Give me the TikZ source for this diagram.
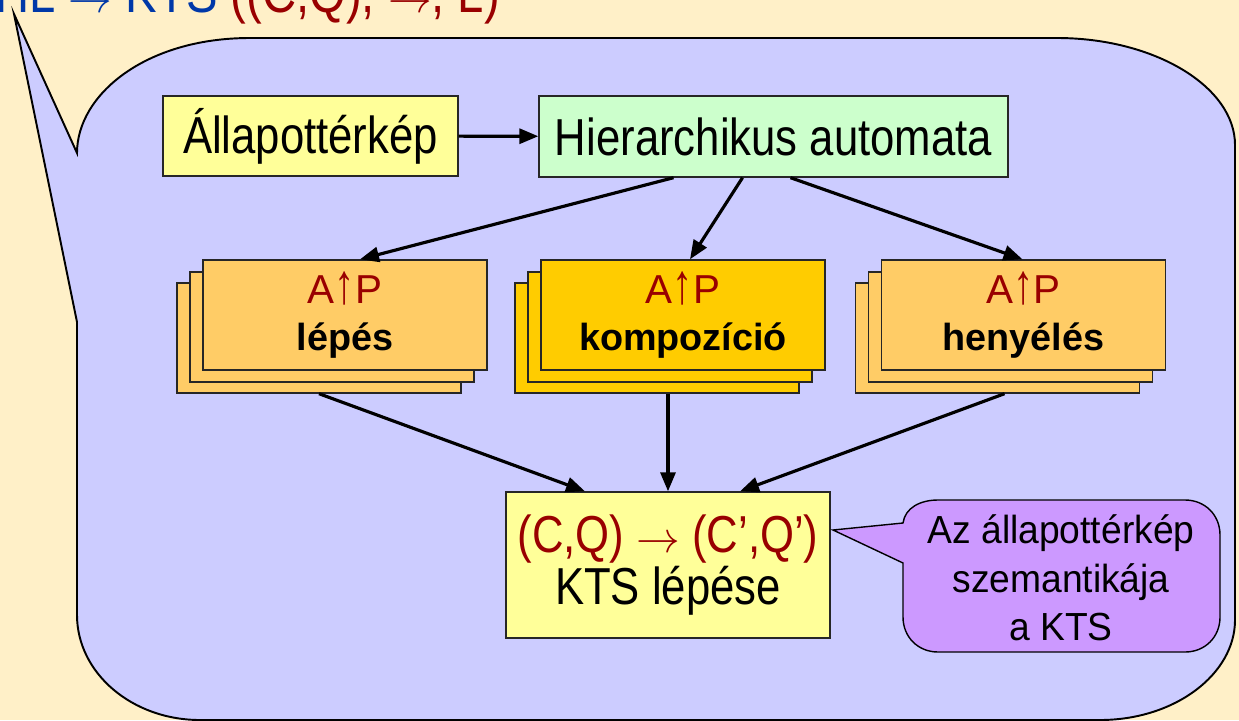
\documentclass[tikz,border=0pt]{standalone}
\usepackage{graphicx}
\usepackage{fontspec}
\setmainfont{Liberation Sans}
\newfontfamily\narrowfont[FakeStretch=0.84]{Liberation Sans}
\newfontfamily\bubblefont[FakeStretch=0.95]{Liberation Sans}
\usetikzlibrary{arrows.meta, calc}

\definecolor{cream}{HTML}{FFF0C8}
\definecolor{lavender}{HTML}{CCCCFF}
\definecolor{paleyellow}{HTML}{FFFF99}
\definecolor{palegreen}{HTML}{CCFFCC}
\definecolor{stackorange}{HTML}{FFCC66}
\definecolor{stackgold}{HTML}{FFCC00}
\definecolor{bubblepurple}{HTML}{CC99FF}
\definecolor{darkred}{HTML}{990000}
\definecolor{titleblue}{HTML}{0038A8}

\newcommand{\uparr}{\scalebox{1}[1.4]{↑}}
\newcommand{\rarr}{$\rightarrow$}

\tikzset{
  plainbox/.style={draw=black!85, line width=0.8pt, inner sep=0pt, align=center,
    font=\narrowfont\fontsize{29.6}{30}\selectfont},
  stackbox/.style={draw=black!85, line width=0.8pt, inner sep=0pt, align=center,
    minimum width=5.68cm, minimum height=2.2cm, font=\fontsize{21.5}{26.7}\selectfont},
  arr/.style={line width=1.8pt, -{Triangle[length=0.38cm, width=0.3cm]}}
}

\begin{document}
\begin{tikzpicture}[x=0.02cm, y=-0.02cm]
\useasboundingbox (0,0) rectangle (1239,720);
\fill[cream] (0,0) rectangle (1239,720);

% title, cut off at the top
\node[anchor=base west, inner sep=0pt, font=\narrowfont\fontsize{32}{32}\selectfont] (title) at (-5,12)
  {\color{titleblue}HL \rarr{} KTS \color{darkred}((C,Q), \rarr, L)};

% big callout
\draw[fill=lavender, line width=1.1pt]
  (250,38) -- (1057,38) .. controls (1155,38) and (1235,87) .. (1235,145)
  -- (1235,620) .. controls (1235,674) and (1175,720) .. (1100,720)
  -- (200,720) .. controls (132,720) and (77,673) .. (77,615)
  -- (77,322) -- (14,14) -- (77,153)
  .. controls (77,95) and (145,38) .. (250,38) -- cycle;

% top row
\node[plainbox, fill=paleyellow, minimum width=5.9cm, minimum height=1.6cm] (allap) at (310.5,136) {Állapottérkép};
\node[plainbox, fill=palegreen, minimum width=9.38cm, minimum height=1.62cm] (hier) at (773.5,136.5) {Hierarchikus automata};
\draw[arr] (allap) -- (hier);

% stacks
\foreach \nm/\cx/\col/\txt in {lep/345/stackorange/lépés, komp/683/stackgold/kompozíció, heny/1023.5/stackorange/henyélés} {
  \node[stackbox, fill=\col] (\nm-2) at (\cx-26,338) {};
  \node[stackbox, fill=\col] (\nm-1) at (\cx-13,327) {};
  \node[stackbox, fill=\col] (\nm) at (\cx,315) {{\fontsize{23}{26.7}\selectfont\color{darkred}A\uparr P}\\\textbf{\txt}};
}

% KTS step
\node[plainbox, fill=paleyellow, minimum width=6.48cm, minimum height=2.92cm] (kts) at (668,565)
  {{\color{darkred}(C,Q) \rarr{} (C’,Q’)}\\KTS lépése};

\draw[arr] ($(hier.south)+(-100,0)$) -- ($(lep.north)+(15,0)$);
\draw[arr] ($(hier.south)+(-31,0)$) -- ($(komp.north)+(7,0)$);
\draw[arr] ($(hier.south)+(17,0)$) -- ($(heny.north)+(-1,0)$);
\draw[arr] (lep-2.south) -- ($(kts.north)+(-83,0)$);
\draw[arr] ($(komp-2.south)+(11,0)$) -- (kts.north);
\draw[arr] ($(heny-2.south)+(7,0)$) -- ($(kts.north)+(72,0)$);

% small callout
\draw[fill=bubblepurple, line width=0.8pt]
  (833,530) -- (903,523) .. controls (905,508) and (920,500) .. (938,500)
  -- (1185,500) .. controls (1205,500) and (1220,515) .. (1220,535)
  -- (1220,617) .. controls (1220,637) and (1205,652) .. (1185,652)
  -- (938,652) .. controls (918,652) and (903,637) .. (903,617)
  -- (903,563) -- cycle;
\node[align=center, inner sep=0pt, font=\bubblefont\fontsize{22.3}{27.5}\selectfont] (szem) at (1061,578)
  {Az állapottérkép\\szemantikája\\a KTS};
\end{tikzpicture}
\end{document}
